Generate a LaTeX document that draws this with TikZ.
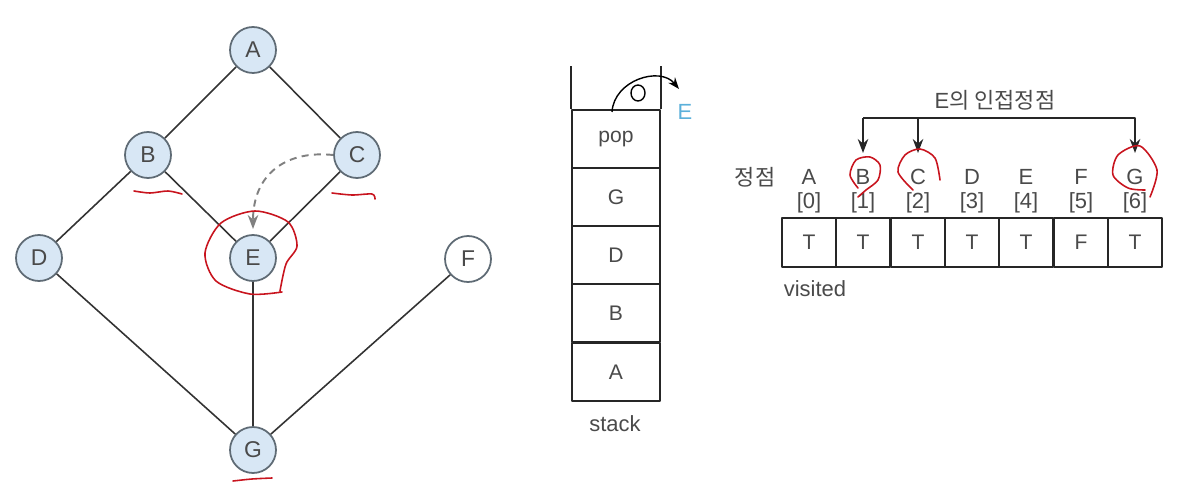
\documentclass[tikz,border=0pt]{standalone}
\usepackage{fontspec}
\setmainfont{Liberation Sans}
\newfontfamily\krfont{Noto Sans CJK KR}
\usepackage{xcolor}
\usetikzlibrary{arrows.meta}
\definecolor{vfill}{HTML}{D8E7F5}
\definecolor{vline}{HTML}{5F6B75}
\definecolor{txt}{HTML}{4A4A4A}
\definecolor{eblue}{HTML}{5BB0DA}
\definecolor{pen}{HTML}{C8141E}

\begin{document}
\begin{tikzpicture}[x=0.02cm,y=-0.02cm,>=Stealth,line join=round,
  vertex/.style={circle,draw=vline,line width=1pt,fill=vfill,minimum size=0.92cm,inner sep=0pt,text=txt,font=\fontsize{13}{13}\selectfont},
  edge/.style={draw=black!80,line width=0.9pt},
  slot/.style={draw=black!85,line width=1.1pt,minimum width=1.76cm,minimum height=1.16cm,inner sep=0pt,text=txt,font=\fontsize{12}{12}\selectfont},
  cell/.style={draw=black!85,line width=1.1pt,minimum width=1.086cm,minimum height=0.98cm,inner sep=0pt,text=txt,font=\fontsize{12}{12}\selectfont},
  lbl/.style={inner sep=0pt,text=txt,font=\fontsize{12.5}{12.5}\selectfont},
  penmark/.style={draw=pen,line width=0.9pt,line cap=round}]
  \useasboundingbox (0,0) rectangle (1186,503);
  % graph
  \node[vertex] (A) at (253,50) {A};
  \node[vertex] (B) at (148,155) {B};
  \node[vertex] (C) at (357,155) {C};
  \node[vertex] (D) at (39,258) {D};
  \node[vertex] (E) at (253,258) {E};
  \node[vertex,fill=white] (F) at (468,259) {F};
  \node[vertex] (G) at (253,450) {G};
  \draw[edge] (A) -- (B);
  \draw[edge] (A) -- (C);
  \draw[edge] (B) -- (D);
  \draw[edge] (B) -- (E);
  \draw[edge] (C) -- (E);
  \draw[edge] (D) -- (G);
  \draw[edge] (E) -- (G);
  \draw[edge] (F) -- (G);
  \coordinate (Etop) at (253,229);
  \draw[->,gray,line width=1.1pt,dash pattern=on 4pt off 3pt] (C.west) .. controls (285,150) and (253,175) .. (Etop);
  % stack
  \node[slot] (s5) at (616,139) {pop};
  \node[slot] (s4) at (616,197) {G};
  \node[slot] (s3) at (616,255) {D};
  \node[slot] (s2) at (616,313) {B};
  \node[slot] (s1) at (616,372) {A};
  \draw[line width=1.1pt,black!85] (s5.north west) -- ++(0,-43);
  \draw[line width=1.1pt,black!85] (s5.north east) -- ++(0,-43);
  \node[lbl] (stk) at (615,424) {stack};
  \coordinate (popA) at (612,112);
  \coordinate (popB) at (679,89);
  \draw[->,line width=0.8pt] (popA) .. controls (614,80) and (660,66) .. (popB);
  \draw[line width=0.8pt] (638,93) ellipse (7 and 8);
  \node[lbl,text=eblue] (pE) at (685,112) {E};
  % visited array
  \foreach \v/\i/\x/\t in {A/0/809/T,B/1/863/T,C/2/918/T,D/3/972/T,E/4/1026/T,F/5/1081/F,G/6/1135/T}{
    \node[cell] (c\i) at (\x,242.5) {\t};
    \node[lbl] (l\i) at (\x,177) {\v};
    \node[lbl] (n\i) at (\x,203) {[\i]};
  }
  \node[lbl] (vt) at (755,177) {\krfont 정점};
  \node[lbl] (vis) at (815,289) {visited};
  \node[lbl] (adj) at (995,100) {E\krfont 의 인접정점};
  \coordinate (kB) at (863,118);
  \coordinate (kC) at (918,118);
  \coordinate (aB) at (863,153);
  \coordinate (aC) at (918,153);
  \coordinate (aG) at (1135,153);
  \draw[->,line width=1.1pt,black!85] (kB) -- (aB);
  \draw[->,line width=1.1pt,black!85] (kC) -- (aC);
  \draw[->,line width=1.1pt,black!85] (kB) -| (aG);
  % red pen marks
  \draw[penmark] plot[smooth] coordinates {(282,292) (250,294) (216,281) (205,253) (221,223) (255,211) (288,222) (297,246) (286,264) (280,291)};
  \draw[penmark] plot[smooth] coordinates {(134,191) (150,193) (168,191) (182,194)};
  \draw[penmark] plot[smooth] coordinates {(332,193) (352,195) (372,194) (375,199)};
  \draw[penmark] plot[smooth] coordinates {(233,481) (252,479) (272,478)};
  \draw[penmark] plot[smooth] coordinates {(858,197) (866,190) (878,180) (880,165) (870,157) (856,160) (850,175) (858,188)};
  \draw[penmark] plot[smooth] coordinates {(913,190) (898,172) (905,155) (920,149) (935,158) (940,180)};
  \draw[penmark] plot[smooth] coordinates {(1150,197) (1157,170) (1140,146) (1118,155) (1113,175) (1128,188) (1145,190)};
\end{tikzpicture}
\end{document}
